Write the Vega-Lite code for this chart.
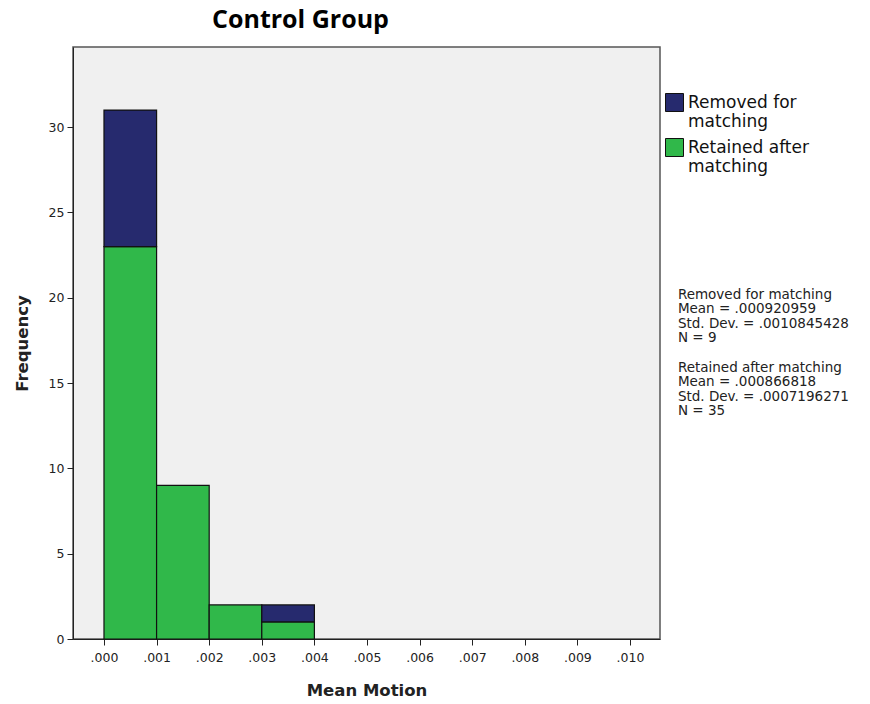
{
  "$schema": "https://vega.github.io/schema/vega-lite/v6.json",
  "autosize": "none",
  "width": 587,
  "height": 592,
  "padding": {"left": 73, "top": 47, "right": 210, "bottom": 65},
  "background": "white",
  "title": {
    "text": "Control Group",
    "font": "Open Sans",
    "fontWeight": "bold",
    "fontSize": 25,
    "color": "black",
    "anchor": "middle",
    "dx": -66,
    "dy": 22,
    "baseline": "alphabetic",
    "offset": 16
  },
  "config": {
    "view": {"fill": "#F0F0F0", "stroke": "#555555", "strokeWidth": 1.5},
    "axis": {
      "grid": false,
      "domainColor": "#222222",
      "tickColor": "#222222",
      "labelColor": "#222222",
      "labelFont": "DejaVu Sans",
      "labelFontSize": 12.5,
      "titleFont": "DejaVu Sans",
      "titleFontWeight": "bold",
      "titleFontSize": 16.5,
      "titleColor": "#222222",
      "tickSize": 6
    }
  },
  "layer": [
    {
      "data": {
        "values": [
          {"bin_start": 0.000, "bin_end": 0.001, "group": "Retained after matching", "count": 23},
          {"bin_start": 0.000, "bin_end": 0.001, "group": "Removed for matching", "count": 8},
          {"bin_start": 0.001, "bin_end": 0.002, "group": "Retained after matching", "count": 9},
          {"bin_start": 0.001, "bin_end": 0.002, "group": "Removed for matching", "count": 0},
          {"bin_start": 0.002, "bin_end": 0.003, "group": "Retained after matching", "count": 2},
          {"bin_start": 0.002, "bin_end": 0.003, "group": "Removed for matching", "count": 0},
          {"bin_start": 0.003, "bin_end": 0.004, "group": "Retained after matching", "count": 1},
          {"bin_start": 0.003, "bin_end": 0.004, "group": "Removed for matching", "count": 1}
        ]
      },
      "mark": {"type": "bar", "stroke": "#111111", "strokeWidth": 1.2},
      "transform": [
        {"filter": "datum.count > 0"},
        {"stack": "count", "groupby": ["bin_start"], "sort": [{"field": "group", "order": "descending"}], "as": ["y0", "y1"]}
      ],
      "encoding": {
        "x": {
          "field": "bin_start",
          "type": "quantitative",
          "scale": {"domain": [-0.000589, 0.01057], "nice": false, "zero": false},
          "axis": {
            "values": [0, 0.001, 0.002, 0.003, 0.004, 0.005, 0.006, 0.007, 0.008, 0.009, 0.01],
            "labelExpr": "substring(format(datum.value, '.3f'), 1)",
            "title": "Mean Motion",
            "labelPadding": 6,
            "titlePadding": 19
          }
        },
        "x2": {"field": "bin_end"},
        "y": {
          "field": "y1",
          "type": "quantitative",
          "scale": {"domain": [0, 34.7], "nice": false},
          "axis": {
            "values": [0, 5, 10, 15, 20, 25, 30],
            "title": "Frequency",
            "labelPadding": 3,
            "titlePadding": 18
          }
        },
        "y2": {"field": "y0"},
        "color": {
          "field": "group",
          "type": "nominal",
          "scale": {
            "domain": ["Removed for matching", "Retained after matching"],
            "range": ["#262A6E", "#30B84A"]
          },
          "legend": {
            "title": null,
            "orient": "none",
            "legendX": 592,
            "legendY": 46,
            "symbolType": "square",
            "symbolSize": 324,
            "symbolStrokeColor": "#111111",
            "symbolStrokeWidth": 1,
            "symbolOpacity": 1,
            "labelFont": "DejaVu Sans",
            "labelFontSize": 17,
            "labelColor": "#111111",
            "labelOffset": 4,
            "labelLimit": 300,
            "labelBaseline": "middle",
            "labelExpr": "datum.label == 'Removed for matching' ? ['Removed for', 'matching'] : ['Retained after', 'matching']",
            "rowPadding": 6
          }
        }
      }
    },
    {
      "data": {"values": [{"lines": ["Removed for matching", "Mean = .000920959", "Std. Dev. = .0010845428", "N = 9"]}]},
      "mark": {
        "type": "text",
        "align": "left",
        "baseline": "top",
        "font": "DejaVu Sans",
        "fontSize": 13.5,
        "lineHeight": 14.5,
        "color": "#222222",
        "clip": false
      },
      "encoding": {
        "x": {"datum": 0.01091, "type": "quantitative"},
        "y": {"datum": 20.6, "type": "quantitative"},
        "text": {"field": "lines"}
      }
    },
    {
      "data": {"values": [{"lines": ["Retained after matching", "Mean = .000866818", "Std. Dev. = .0007196271", "N = 35"]}]},
      "mark": {
        "type": "text",
        "align": "left",
        "baseline": "top",
        "font": "DejaVu Sans",
        "fontSize": 13.5,
        "lineHeight": 14.5,
        "color": "#222222",
        "clip": false
      },
      "encoding": {
        "x": {"datum": 0.01091, "type": "quantitative"},
        "y": {"datum": 16.3, "type": "quantitative"},
        "text": {"field": "lines"}
      }
    }
  ]
}
